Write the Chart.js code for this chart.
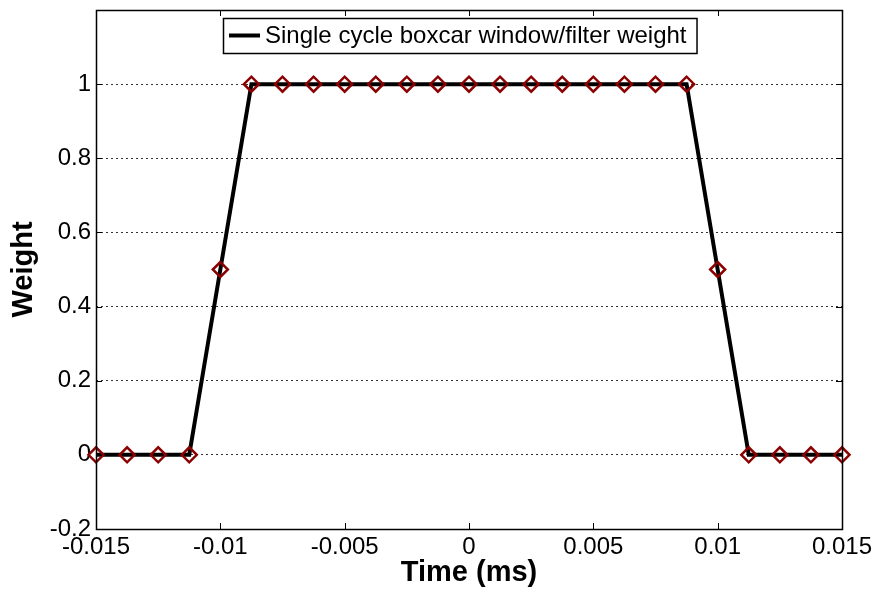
<!DOCTYPE html>
<html>
<head>
<meta charset="utf-8">
<script src="https://cdn.jsdelivr.net/npm/chart.js@4/dist/chart.umd.min.js"></script>
<style>
  html, body { margin: 0; padding: 0; background: #fff; }
  #wrap { width: 877px; height: 591px; }
</style>
</head>
<body>
<div id="wrap"><canvas id="grafikBobot"></canvas></div>
<script>
// Data: sumbu waktu (ms) dan bobot jendela boxcar
const timeValues = [
  -0.015, -0.01375, -0.0125, -0.01125, -0.01, -0.00875, -0.0075, -0.00625,
  -0.005, -0.00375, -0.0025, -0.00125, 0, 0.00125, 0.0025, 0.00375,
  0.005, 0.00625, 0.0075, 0.00875, 0.01, 0.01125, 0.0125, 0.01375, 0.015
];
const weightValues = [
  0, 0, 0, 0, 0.5, 1, 1, 1,
  1, 1, 1, 1, 1, 1, 1, 1,
  1, 1, 1, 1, 0.5, 0, 0, 0, 0
];
const xTicks = [-0.015, -0.01, -0.005, 0, 0.005, 0.01, 0.015];
const yTicks = [-0.2, 0, 0.2, 0.4, 0.6, 0.8, 1, 1.2];
const seriesLabel = 'Single cycle boxcar window/filter weight';

const FONT = "'Liberation Sans', Arial, sans-serif";

// Kotak sumbu + tick ke dalam ala MATLAB
const axesBoxPlugin = {
  id: 'axesBox',
  afterDatasetsDraw(chart) {
    const { ctx, chartArea: a, scales } = chart;
    ctx.save();
    ctx.strokeStyle = '#000';
    ctx.lineWidth = 1;
    const tl = 6;
    ctx.beginPath();
    xTicks.forEach(v => {
      const px = Math.round(scales.x.getPixelForValue(v)) + 0.5;
      ctx.moveTo(px, a.bottom); ctx.lineTo(px, a.bottom - tl);
      ctx.moveTo(px, a.top); ctx.lineTo(px, a.top + tl);
    });
    yTicks.forEach(v => {
      const py = Math.round(scales.y.getPixelForValue(v)) + 0.5;
      ctx.moveTo(a.left, py); ctx.lineTo(a.left + tl, py);
      ctx.moveTo(a.right, py); ctx.lineTo(a.right - tl, py);
    });
    ctx.stroke();
    ctx.lineWidth = 1.5;
    ctx.strokeRect(Math.round(a.left) + 0.5, Math.round(a.top) + 0.5,
      Math.round(a.right - a.left), Math.round(a.bottom - a.top));
    ctx.restore();
  },
  afterDraw(chart) {
    // Legenda dengan bingkai
    const { ctx, chartArea: a } = chart;
    const ds = chart.data.datasets[0];
    ctx.save();
    ctx.font = '24px ' + FONT;
    const tw = ctx.measureText(ds.label).width;
    const x0 = a.left + 127, y0 = a.top + 8;
    const w = tw + 52, h = 35;
    ctx.fillStyle = '#fff';
    ctx.fillRect(x0, y0, w, h);
    ctx.strokeStyle = '#000';
    ctx.lineWidth = 1.5;
    ctx.strokeRect(x0 + 0.5, y0 + 0.5, w, h);
    ctx.strokeStyle = ds.borderColor;
    ctx.lineWidth = ds.borderWidth;
    ctx.beginPath();
    ctx.moveTo(x0 + 6, y0 + h / 2);
    ctx.lineTo(x0 + 37, y0 + h / 2);
    ctx.stroke();
    ctx.fillStyle = '#000';
    ctx.textBaseline = 'middle';
    ctx.fillText(ds.label, x0 + 42, y0 + h / 2 + 1);
    ctx.restore();
  }
};

new Chart(document.getElementById('grafikBobot'), {
  type: 'line',
  data: {
    datasets: [{
      label: seriesLabel,
      data: timeValues.map((t, i) => ({ x: t, y: weightValues[i] })),
      borderColor: '#000',
      borderWidth: 4,
      pointStyle: 'rectRot',
      pointRadius: 7.5,
      pointBorderWidth: 2.5,
      pointBorderColor: '#8b0000',
      pointBackgroundColor: 'rgba(0,0,0,0)',
      tension: 0,
      clip: false
    }]
  },
  options: {
    responsive: true,
    maintainAspectRatio: false,
    animation: false,
    layout: { padding: { left: 0, top: 0, right: 35, bottom: 0 } },
    plugins: {
      legend: { display: false },
      tooltip: { enabled: false }
    },
    scales: {
      x: {
        type: 'linear',
        min: -0.015,
        max: 0.015,
        afterBuildTicks: s => { s.ticks = xTicks.map(v => ({ value: v })); },
        afterFit: s => { s.height = 62; },
        grid: { display: false, drawTicks: false },
        border: { display: false },
        ticks: {
          color: '#000',
          padding: 4,
          maxRotation: 0,
          autoSkip: false,
          font: { family: FONT, size: 24 },
          callback: v => String(+v.toFixed(4))
        },
        title: {
          display: true,
          text: 'Time (ms)',
          color: '#000',
          padding: { top: 0, bottom: 1 },
          font: { family: FONT, size: 29, weight: 'bold' }
        }
      },
      y: {
        min: -0.2,
        max: 1.2,
        afterBuildTicks: s => { s.ticks = yTicks.map(v => ({ value: v })); },
        afterFit: s => { s.width = 96; s.paddingTop = 8; s.paddingBottom = 0; },
        grid: {
          drawTicks: false,
          color: ctx => (ctx.tick && (ctx.tick.value === 1.2 || ctx.tick.value === -0.2)) ? 'rgba(0,0,0,0)' : '#333',
          lineWidth: 1
        },
        border: { display: false, dash: [2, 3] },
        ticks: {
          color: '#000',
          padding: 5,
          font: { family: FONT, size: 24 },
          callback: v => (Math.abs(v - 1.2) < 1e-9 ? '' : String(+v.toFixed(1)))
        },
        title: {
          display: true,
          text: 'Weight',
          color: '#000',
          padding: { top: 7, bottom: 0 },
          font: { family: FONT, size: 29, weight: 'bold' }
        }
      }
    }
  },
  plugins: [axesBoxPlugin]
});
</script>
</body>
</html>
